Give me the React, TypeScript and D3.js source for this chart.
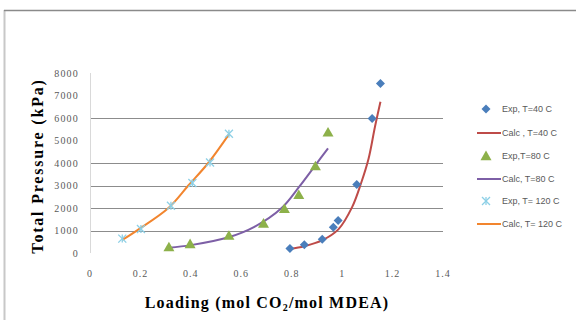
import React from "react";
import * as d3 from "d3";

const xTicks = [0, 0.2, 0.4, 0.6, 0.8, 1, 1.2, 1.4];
const xTickLabels = ["0", "0.2", "0.4", "0.6", "0.8", "1", "1.2", "1.4"];
const yTicks = [0, 1000, 2000, 3000, 4000, 5000, 6000, 7000, 8000];
const gridValues = [1000, 2000, 3000, 4000, 6000];

const exp40: [number, number][] = [
  [0.793, 200], [0.85, 370], [0.921, 610], [0.965, 1140], [0.984, 1450],
  [1.058, 3050], [1.119, 5980], [1.152, 7530],
];
const calc40: [number, number][] = [
  [0.793, 180], [0.85, 300], [0.92, 560], [0.985, 1050], [1.04, 2050],
  [1.075, 3100], [1.105, 4200], [1.13, 5600], [1.152, 6720],
];
const exp80: [number, number][] = [
  [0.313, 260], [0.397, 400], [0.551, 770], [0.688, 1310], [0.771, 1960],
  [0.828, 2580], [0.894, 3860], [0.944, 5360],
];
const calc80: [number, number][] = [
  [0.313, 230], [0.4, 350], [0.55, 700], [0.65, 1150], [0.76, 2000],
  [0.83, 2950], [0.897, 3950], [0.944, 4650],
];
const exp120: [number, number][] = [
  [0.128, 640], [0.202, 1070], [0.321, 2100], [0.406, 3110], [0.476, 4020], [0.551, 5300],
];
const calc120: [number, number][] = [
  [0.128, 580], [0.19, 1030], [0.311, 2000], [0.39, 3000], [0.469, 4000], [0.551, 5270],
];

const legendLabels = [
  "Exp, T=40 C", "Calc , T=40 C", "Exp,T=80 C", "Calc, T=80 C", "Exp, T= 120 C", "Calc, T= 120 C",
];

const C_BLUE = "#4a7ebb";
const C_RED = "#be4b48";
const C_GREEN = "#8db14a";
const C_PURPLE = "#7d5fa6";
const C_CYAN = "#8ccfe6";
const C_ORANGE = "#f2852e";

function Marker({ kind, x, y }: { kind: string; x: number; y: number }) {
  if (kind === "diamond") {
    const s = 4.5;
    return <path d={`M${x},${y - s}L${x + s},${y}L${x},${y + s}L${x - s},${y}Z`} fill={C_BLUE} />;
  }
  if (kind === "triangle") {
    const s = 5.5;
    return <path d={`M${x},${y - s}L${x + s},${y + s * 0.75}L${x - s},${y + s * 0.75}Z`} fill={C_GREEN} />;
  }
  const s = 4;
  return (
    <g stroke={C_CYAN} strokeWidth={1.3}>
      <line x1={x - s} y1={y - s} x2={x + s} y2={y + s} />
      <line x1={x - s} y1={y + s} x2={x + s} y2={y - s} />
      <line x1={x} y1={y - s} x2={x} y2={y + s} />
    </g>
  );
}

export default function App() {
  const x = d3.scaleLinear().domain([0, 1.4]).range([90, 443]);
  const y = d3.scaleLinear().domain([0, 8000]).range([253, 73]);
  const line = d3
    .line<[number, number]>()
    .x((d) => x(d[0]))
    .y((d) => y(d[1]))
    .curve(d3.curveCatmullRom.alpha(0.5));

  const series = [
    { exp: exp40, calc: calc40, kind: "diamond", color: C_RED },
    { exp: exp80, calc: calc80, kind: "triangle", color: C_PURPLE },
    { exp: exp120, calc: calc120, kind: "star", color: C_ORANGE },
  ];
  const legendY = [109, 133, 156, 179, 201, 224];
  const serif = "'Liberation Serif', 'Times New Roman', serif";
  const narrow = "'Liberation Sans Narrow', 'Liberation Sans', sans-serif";

  return (
    <svg width={576} height={320} style={{ position: "absolute", left: 0, top: 0, background: "#fff" }}>
      <rect x={0} y={0} width={576} height={320} fill="#fff" />
      {/* frame */}
      <line x1={4.5} y1={10} x2={4.5} y2={320} stroke="#c8c8c8" strokeWidth={2} />
      <line x1={4} y1={10.5} x2={576} y2={10.5} stroke="#8a8a8a" strokeWidth={1.5} />
      {/* gridlines */}
      {gridValues.map((v) => (
        <line key={v} x1={90} x2={443} y1={Math.round(y(v)) + 0.5} y2={Math.round(y(v)) + 0.5} stroke="#8c8c8c" strokeWidth={1} />
      ))}
      {/* y axis line */}
      <line x1={90.5} x2={90.5} y1={y(8000)} y2={y(0)} stroke="#d9d9d9" strokeWidth={1} />
      {/* y tick labels */}
      {yTicks.map((v) => (
        <text key={v} x={79} y={y(v)} dy="0.35em" textAnchor="end" fontFamily={serif} fontSize={10} letterSpacing={1.2} fill="#595959">
          {v}
        </text>
      ))}
      {/* x tick labels */}
      {xTicks.map((v, i) => (
        <text key={v} x={x(v)} y={277} textAnchor="middle" fontFamily={serif} fontSize={10} letterSpacing={1} fill="#595959">
          {xTickLabels[i]}
        </text>
      ))}
      {/* series */}
      {series.map((s, i) => (
        <g key={i}>
          <path d={line(s.calc) || ""} fill="none" stroke={s.color} strokeWidth={2} />
          {s.exp.map((d, j) => (
            <Marker key={j} kind={s.kind} x={x(d[0])} y={y(d[1])} />
          ))}
        </g>
      ))}
      {/* axis titles */}
      <text
        transform={`translate(43,166) rotate(-90)`}
        textAnchor="middle"
        fontFamily={serif}
        fontWeight="bold"
        fontSize={16}
        letterSpacing={1.8}
        fill="#000"
      >
        Total Pressure (kPa)
      </text>
      <text x={267} y={308} textAnchor="middle" fontFamily={serif} fontWeight="bold" fontSize={16} letterSpacing={1.2} fill="#000">
        Loading (mol CO<tspan fontSize={10} dy={3}>2</tspan>
        <tspan dy={-3}>/mol MDEA)</tspan>
      </text>
      {/* legend */}
      {legendLabels.map((lab, i) => {
        const ly = legendY[i];
        const s = series[Math.floor(i / 2)];
        return (
          <g key={lab}>
            {i % 2 === 0 ? (
              <Marker kind={s.kind} x={486} y={ly} />
            ) : (
              <line x1={477} x2={501} y1={ly} y2={ly} stroke={s.color} strokeWidth={2} />
            )}
            <text x={502} y={ly} dy="0.35em" fontFamily={narrow} fontSize={9} fill="#595959">
              {lab}
            </text>
          </g>
        );
      })}
    </svg>
  );
}
